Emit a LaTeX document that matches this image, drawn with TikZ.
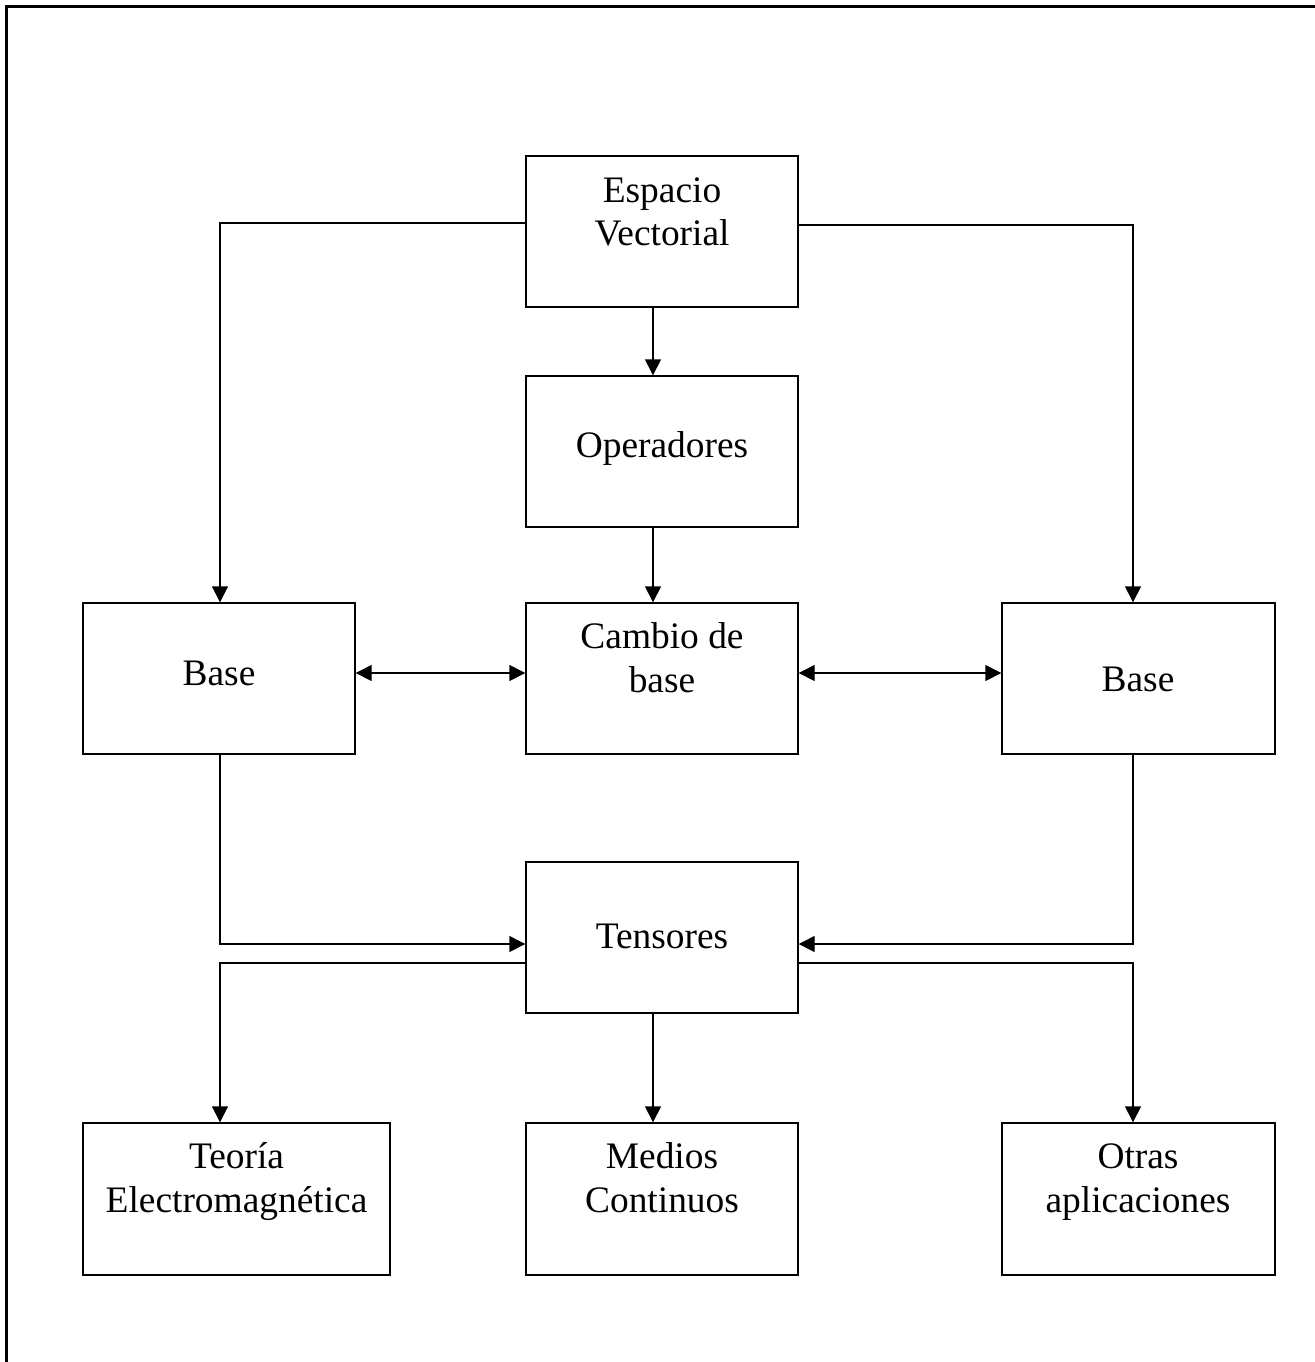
\documentclass[tikz,border=0pt]{standalone}
\usepackage{fontspec}
\setmainfont{Liberation Serif}
\usetikzlibrary{arrows.meta}
\begin{document}
\begin{tikzpicture}[x=0.5pt,y=-0.5pt,
  box/.style={draw,line width=0.7pt,rectangle,inner sep=0pt,minimum width=136pt,minimum height=75.5pt},
  lbl/.style={anchor=base,inner sep=0pt,font=\fontsize{18.7pt}{21.5pt}\selectfont},
  conn/.style={line width=0.7pt},
  arr/.style={conn,-{Triangle[length=8pt,width=8pt]}},
  darr/.style={conn,{Triangle[length=8pt,width=8pt]}-{Triangle[length=8pt,width=8pt]}},
  frame/.style={line width=1.5pt}]
\useasboundingbox (0,0) rectangle (1315,1362);
% outer frame (left and top edges)
\coordinate (f1) at (6,1362);
\coordinate (f2) at (6,6);
\coordinate (f3) at (1315,6);
\draw[frame] (f1) -- (f2) -- (f3);
% boxes
\node[box] (EV) at (662,231.5) {};
\node[box] (OP) at (662,451.5) {};
\node[box] (BL) at (219,678.5) {};
\node[box] (CB) at (662,678.5) {};
\node[box,minimum width=136.5pt] (BR) at (1138.5,678.5) {};
\node[box] (TE) at (662,937.5) {};
\node[box,minimum width=153.5pt,minimum height=76pt] (TEM) at (236.5,1199) {};
\node[box,minimum height=76pt] (MC) at (662,1199) {};
\node[box,minimum width=136.5pt,minimum height=76pt] (OA) at (1138.5,1199) {};
% labels
\node[lbl] (ev1) at (662,202) {Espacio};
\node[lbl] (ev2) at (662,245) {Vectorial};
\node[lbl] (op1) at (662,457) {Operadores};
\node[lbl] (bl1) at (219,685) {Base};
\node[lbl] (cb1) at (662,648) {Cambio de};
\node[lbl] (cb2) at (662,692) {base};
\node[lbl] (br1) at (1138,691) {Base};
\node[lbl] (te1) at (662,948) {Tensores};
\node[lbl] (tem1) at (236.5,1168) {Teoría};
\node[lbl] (tem2) at (236.5,1212) {Electromagnética};
\node[lbl] (mc1) at (662,1168) {Medios};
\node[lbl] (mc2) at (662,1212) {Continuos};
\node[lbl] (oa1) at (1138,1168) {Otras};
\node[lbl] (oa2) at (1138,1212) {aplicaciones};
% connectors
\draw[arr] ([yshift=4.25pt]EV.west) -| ([xshift=0.5pt]BL.north);
\draw[arr] ([yshift=3.25pt]EV.east) -| ([xshift=-2.75pt]BR.north);
\draw[arr] ([xshift=-4.5pt]EV.south) -- ([xshift=-4.5pt]OP.north);
\draw[arr] ([xshift=-4.5pt]OP.south) -- ([xshift=-4.5pt]CB.north);
\draw[darr] ([yshift=2.75pt]BL.east) -- ([yshift=2.75pt]CB.west);
\draw[darr] ([yshift=2.75pt]CB.east) -- ([yshift=2.75pt]BR.west);
\draw[arr] ([xshift=0.5pt]BL.south) |- ([yshift=-3.25pt]TE.west);
\draw[arr] ([xshift=-2.75pt]BR.south) |- ([yshift=-3.25pt]TE.east);
\draw[arr] ([yshift=-12.75pt]TE.west) -| ([xshift=-8.25pt]TEM.north);
\draw[arr] ([yshift=-12.75pt]TE.east) -| ([xshift=-2.75pt]OA.north);
\draw[arr] ([xshift=-4.5pt]TE.south) -- ([xshift=-4.5pt]MC.north);
\end{tikzpicture}
\end{document}
